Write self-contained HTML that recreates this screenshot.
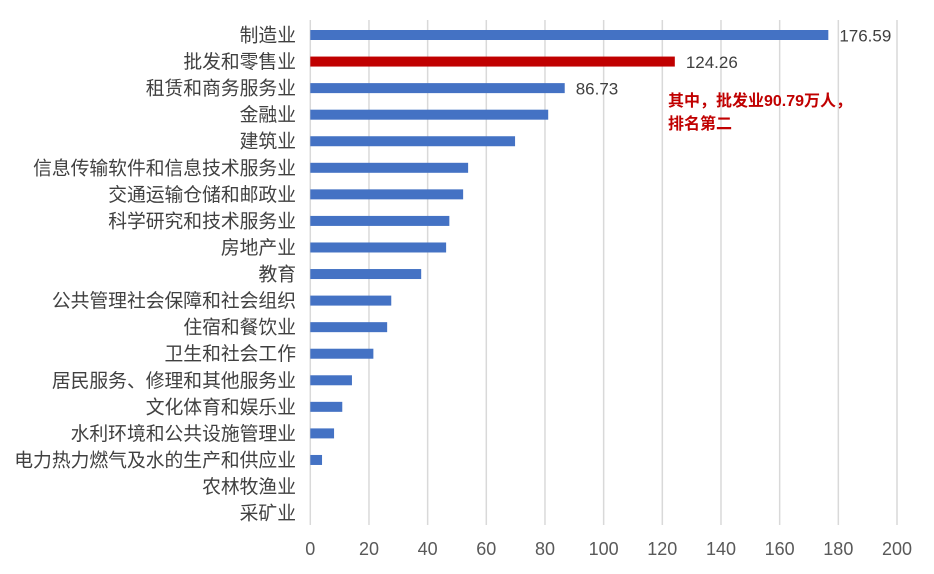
<!DOCTYPE html>
<html><head><meta charset="utf-8">
<style>
body{margin:0;background:#fff;}
svg text{font-family:"Liberation Sans","Noto Sans CJK SC",sans-serif;}
</style></head>
<body>
<svg id="chart" width="934" height="569" xmlns="http://www.w3.org/2000/svg">
<g id="grid"></g>
<g id="bars"></g>
<g id="labels"></g>
<g id="ticks"></g>
<text x="668" y="106" font-size="16" font-weight="bold" fill="#c00000">其中，批发业90.79万人，</text>
<text x="668" y="129" font-size="16" font-weight="bold" fill="#c00000">排名第二</text>
</svg>
<script>
const categories=["制造业","批发和零售业","租赁和商务服务业","金融业","建筑业","信息传输软件和信息技术服务业","交通运输仓储和邮政业","科学研究和技术服务业","房地产业","教育","公共管理社会保障和社会组织","住宿和餐饮业","卫生和社会工作","居民服务、修理和其他服务业","文化体育和娱乐业","水利环境和公共设施管理业","电力热力燃气及水的生产和供应业","农林牧渔业","采矿业"];
const values=[176.59,124.26,86.73,81.1,69.8,53.8,52.1,47.4,46.3,37.8,27.6,26.2,21.5,14.2,10.9,8.1,4.0,0,0];
const shownLabels=["176.59","124.26","86.73"];
const ticks=[0,20,40,60,80,100,120,140,160,180,200];
const NS="http://www.w3.org/2000/svg";
const x0=310.3,x1=897,y0=35,step=26.56;
const xs=v=>x0+(x1-x0)*v/200;
const ys=i=>y0+i*step;
function mk(t,a,p){const e=document.createElementNS(NS,t);for(const k in a)e.setAttribute(k,a[k]);p.appendChild(e);return e;}
const g=document.getElementById('grid'),b=document.getElementById('bars'),l=document.getElementById('labels'),tk=document.getElementById('ticks');
ticks.forEach(t=>{
  const ln=mk('line',{x1:xs(t),x2:xs(t),y1:20,y2:525,stroke:'#d9d9d9','stroke-width':1.5},g);
  
  
  const tx=mk('text',{x:xs(t),y:555,'font-size':18,fill:'#595959','text-anchor':'middle'},tk);
  tx.textContent=t;
  
  
});
categories.forEach((c,i)=>{
  const r=mk('rect',{x:x0,y:ys(i)-5,width:Math.max(0,xs(values[i])-x0),height:10,fill:i===1?'#c00000':'#4472c4'},b);
  
  
  const t=mk('text',{x:296,y:ys(i)+6.5,'font-size':18.8,fill:'#404040','text-anchor':'end'},l);
  t.textContent=c;
  
  
  if(i<shownLabels.length){
    const v=mk('text',{x:xs(values[i])+11,y:ys(i)+6.5,'font-size':17,fill:'#404040'},b);
    v.textContent=shownLabels[i];
    
    
  }
});
</script>
</body></html>
